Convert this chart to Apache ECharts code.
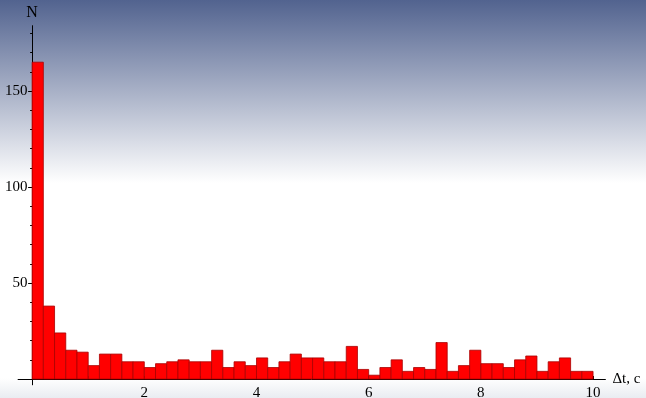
<!DOCTYPE html>
<html>
<head>
<meta charset="utf-8">
<script src="https://cdn.jsdelivr.net/npm/echarts@6/dist/echarts.min.js"></script>
<style>
  html, body { margin: 0; padding: 0; }
  #chart { width: 646px; height: 398px; }
</style>
</head>
<body>
<div id="chart"></div>
<script>
// Histogram of time intervals, bins of 0.2 s from 0 to 10 s
const binWidth = 0.2;
const counts = [
  165, 38, 24, 15, 14, 7, 13, 13, 9, 9,
  6, 8, 9, 10, 9, 9, 15, 6, 9, 7,
  11, 6, 9, 13, 11, 11, 9, 9, 17, 5,
  2, 6, 10, 4, 6, 5, 19, 4, 7, 15,
  8, 8, 6, 10, 12, 4, 9, 11, 4, 4
];
const xTickLabels = [2, 4, 6, 8, 10];
const xMinorTicks = [0.5, 1, 1.5, 2, 2.5, 3, 3.5, 4, 4.5, 5, 5.5, 6, 6.5, 7, 7.5, 8, 8.5, 9, 9.5, 10];
const yTickLabels = [50, 100, 150];
const yMinorTicks = [10, 20, 30, 40, 50, 60, 70, 80, 90, 100, 110, 120, 130, 140, 150, 160, 170, 180];

const bins = counts.map((c, i) => [i * binWidth, (i + 1) * binWidth, c]);

const serif = '"Liberation Serif", "DejaVu Serif", serif';
const chart = echarts.init(document.getElementById('chart'), null, { renderer: 'canvas' });

chart.setOption({
  animation: false,
  backgroundColor: {
    type: 'linear', x: 0, y: 0, x2: 0, y2: 1,
    colorStops: [
      { offset: 0, color: '#52638f' },
      { offset: 0.46, color: '#ffffff' },
      { offset: 0.95, color: '#ffffff' },
      { offset: 1, color: '#e9ecf1' }
    ]
  },
  grid: { left: 18.1, right: 40.6, top: 25.7, bottom: 13.2, containLabel: false, outerBoundsMode: 'none' },
  xAxis: [{
    type: 'value', min: -0.25, max: 10.22,
    axisLine: { onZero: true, lineStyle: { color: '#000', width: 1 } },
    axisTick: { show: false },
    splitLine: { show: false },
    axisLabel: {
      customValues: xTickLabels, color: '#000', fontFamily: serif, fontSize: 15, margin: 1
    },
    name: 'Δt, c', nameLocation: 'end', nameGap: 7,
    nameTextStyle: { color: '#000', fontFamily: serif, fontSize: 15, align: 'left', verticalAlign: 'middle', padding: [12, 0, 0, 0] }
  }, {
    type: 'value', min: -0.25, max: 10.22, position: 'bottom',
    axisLine: { show: false },
    axisLabel: { show: false },
    splitLine: { show: false },
    axisTick: { customValues: xMinorTicks, inside: true, length: 3, lineStyle: { color: '#000' } }
  }],
  yAxis: [{
    type: 'value', min: -3, max: 184,
    axisLine: { onZero: true, lineStyle: { color: '#000', width: 1 } },
    axisTick: { customValues: yTickLabels, inside: false, length: 4, lineStyle: { color: '#000' } },
    splitLine: { show: false },
    axisLabel: {
      customValues: yTickLabels, color: '#000', fontFamily: serif, fontSize: 15, margin: -9.5
    },
    name: 'N', nameLocation: 'end', nameGap: 5,
    nameTextStyle: { color: '#000', fontFamily: serif, fontSize: 16, align: 'center', verticalAlign: 'bottom' }
  }, {
    type: 'value', min: -3, max: 184, position: 'left',
    axisLine: { show: false },
    axisLabel: { show: false },
    splitLine: { show: false },
    axisTick: { customValues: yMinorTicks, inside: false, length: 2, lineStyle: { color: '#000' } }
  }],
  series: [{
    type: 'custom',
    xAxisIndex: 0, yAxisIndex: 0,
    data: bins,
    encode: { x: [0, 1], y: 2 },
    renderItem: function (params, api) {
      const p0 = api.coord([api.value(0), 0]);
      const p1 = api.coord([api.value(1), api.value(2)]);
      return {
        type: 'rect',
        shape: { x: p0[0], y: p1[1], width: p1[0] - p0[0], height: p0[1] - p1[1] },
        style: { fill: '#ff0000', stroke: '#a80000', lineWidth: 0.8 }
      };
    }
  }]
});
</script>
</body>
</html>
